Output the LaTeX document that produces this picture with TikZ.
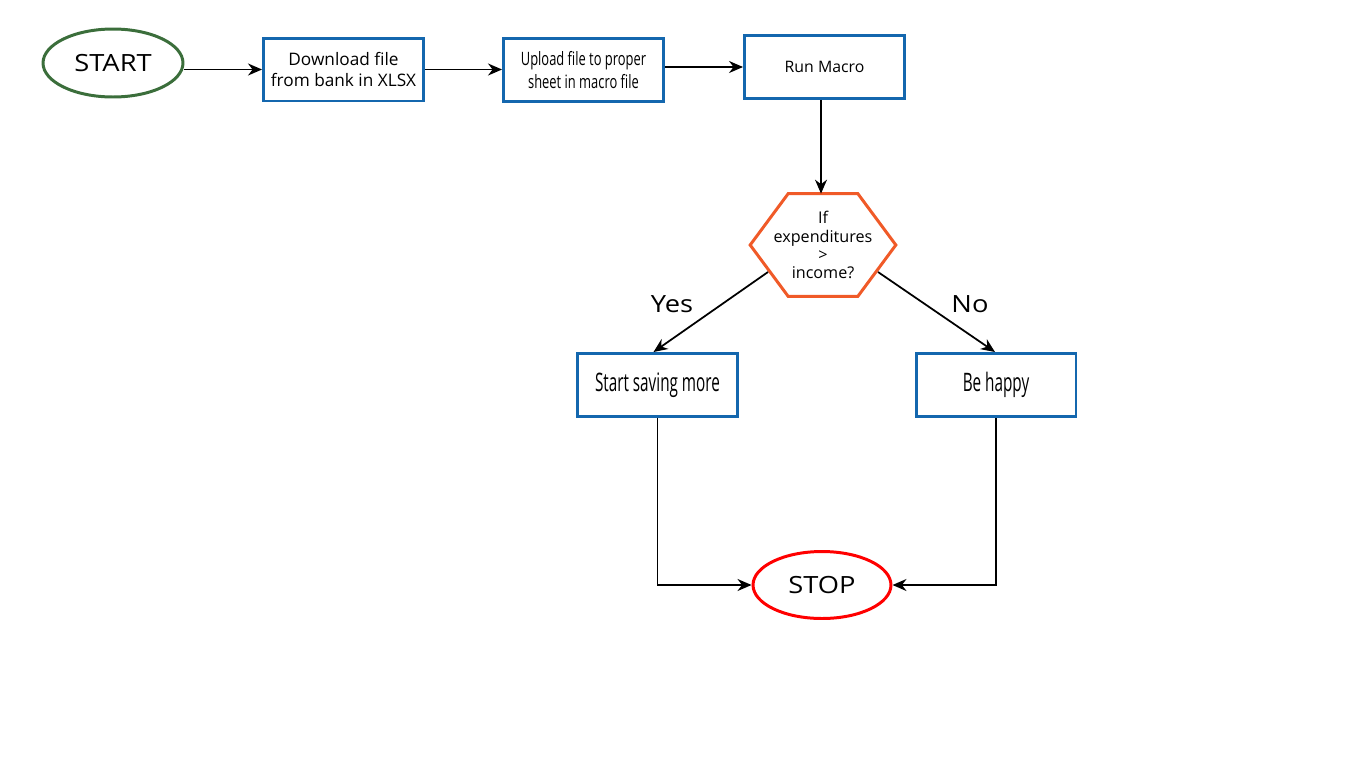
\documentclass[tikz,border=0pt]{standalone}
\usepackage{fontspec}
\usepackage{xcolor}
\usepackage{tikz}
\setmainfont{Open Sans}
\newfontfamily\narrowfont[FakeStretch=0.7]{Open Sans}
\newfontfamily\tightfont[FakeStretch=0.6]{Open Sans}
\newfontfamily\widefont[FakeStretch=1.15]{Open Sans}
\definecolor{fcblue}{HTML}{1467AE}
\definecolor{fcgreen}{HTML}{3B6E3B}
\definecolor{fcorange}{HTML}{F05A28}
\definecolor{fcred}{HTML}{FF0000}
\usetikzlibrary{shapes.geometric, arrows, arrows.meta, positioning, calc}

\begin{document}
\begin{tikzpicture}[x=0.02cm, y=-0.02cm,
  procbox/.style={draw=fcblue, line width=1.7pt, minimum width=3.2cm, minimum height=1.26cm, align=center, inner sep=1pt},
  termnode/.style={ellipse, line width=1.7pt, minimum width=2.8cm, minimum height=1.36cm, font=\widefont\fontsize{13.5}{15}\selectfont},
  arr/.style={-{Stealth[length=0.28cm, width=0.24cm]}, line width=1pt, black}]
\useasboundingbox (0,0) rectangle (1366,768);

% Top row of steps
\node[termnode, draw=fcgreen] (start) at (113,63) {START};
\node[procbox, font=\fontsize{9.8}{11.5}\selectfont] (dl) at (343.5,69.5) {Download file\\from bank in XLSX};
\node[procbox, font=\narrowfont\fontsize{10.5}{13}\selectfont] (up) at (583.5,70) {Upload file to proper\\sheet in macro file};
\node[procbox, font=\fontsize{9}{11}\selectfont] (run) at (824.5,67) {Run Macro};

% Decision
\node[minimum width=2.9cm, minimum height=2.04cm, align=center, font=\fontsize{9.2}{10.3}\selectfont] (dec) at (823,245) {If\\expenditures\\>\\income?};
\draw[fcorange, line width=1.7pt, line join=miter]
  (dec.west) -- ($(dec.north west)+(38,0)$) -- ($(dec.north east)+(-38,0)$)
  -- (dec.east) -- ($(dec.south east)+(-38,0)$) -- ($(dec.south west)+(38,0)$) -- cycle;
\coordinate (decsw) at (768,272);
\coordinate (decse) at (878,272);

% Outcomes
\node[procbox, font=\tightfont\fontsize{14.5}{16}\selectfont] (yes) at (657.5,385) {Start saving more};
\node[procbox, font=\tightfont\fontsize{14.5}{16}\selectfont] (no) at (996,385) {Be happy};
\node[termnode, draw=fcred, minimum width=2.76cm, minimum height=1.34cm] (stop) at (822,585) {STOP};

% Labels
\node[font=\widefont\fontsize{13.5}{15}\selectfont] (lyes) at (672,304) {Yes};
\node[font=\widefont\fontsize{13.5}{15}\selectfont] (lno) at (970,304) {No};

% Connectors
\draw[arr] (start.east |- dl.west) -- (dl.west);
\draw[arr] (dl.east) -- (dl.east -| up.west);
\draw[arr] (up.east |- run.west) -- (run.west);
\draw[arr] (821,0 |- run.south) -- (821,0 |- dec.north);
\draw[arr] (decsw) -- ($(yes.north)+(-4,0)$);
\draw[arr] (decse) -- ($(no.north)+(-1,0)$);
\draw[arr] (yes.south) |- (stop.west);
\draw[arr] (no.south) |- (stop.east);
\end{tikzpicture}
\end{document}
